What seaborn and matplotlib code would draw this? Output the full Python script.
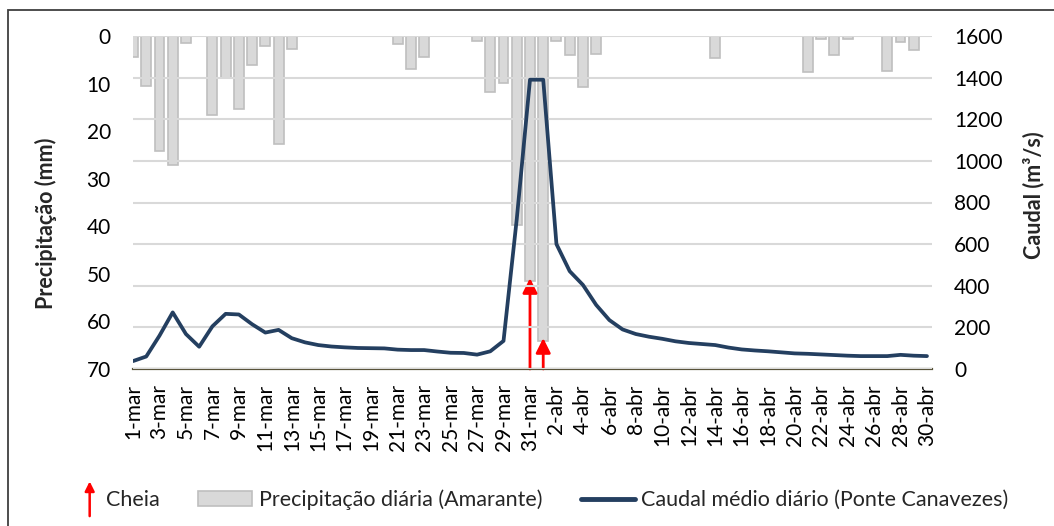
import numpy as np
import matplotlib
matplotlib.use("Agg")
import matplotlib.pyplot as plt
from matplotlib.patches import Rectangle, FancyArrowPatch, Patch
from matplotlib.lines import Line2D
from matplotlib.legend_handler import HandlerBase
import seaborn as sns

# dias: 1-mar .. 30-abr
days = [f"{d}-mar" for d in range(1, 32)] + [f"{d}-abr" for d in range(1, 31)]

# precipitação diária (Amarante), mm
precip = [4.5, 10.5, 24.2, 27.2, 1.4, 0, 16.6, 8.8, 15.3, 6.0,
          2.2, 22.8, 2.7, 0, 0, 0, 0, 0, 0, 0,
          1.6, 6.9, 4.5, 0, 0, 0, 1.0, 11.7, 9.9, 39.7,
          51.6, 64.2, 1.0, 3.9, 10.7, 3.8, 0, 0, 0, 0,
          0, 0, 0, 0, 4.6, 0, 0, 0, 0, 0,
          0, 7.6, 0.6, 3.9, 0.6, 0, 0, 7.4, 1.2, 2.9,
          0]

# caudal médio diário (Ponte Canavezes), m3/s
caudal = [38, 60, 160, 272, 168, 107, 205, 265, 262, 215,
          175, 188, 148, 128, 115, 108, 104, 101, 100, 99,
          93, 91, 91, 84, 78, 77, 69, 85, 135, 720,
          1390, 1390, 600, 470, 404, 308, 235, 190, 168, 155,
          145, 133, 125, 120, 115, 103, 94, 89, 85, 80,
          75, 73, 70, 67, 64, 62, 62, 62, 68, 64,
          62]

# cheias (setas)
cheia_days = [30, 31]
cheia_tip = [50.9, 63.5]

sns.set_theme(style="white")
plt.rcParams["font.family"] = ["Lato", "DejaVu Sans"]

bar_fill = "#d9d9d9"
bar_edge = "#bfbfbf"
line_col = "#243f60"

fig = plt.figure(figsize=(10.54, 5.26), dpi=100)
ax = fig.add_axes([133 / 1054, 1 - 369 / 526, 799 / 1054, 333 / 526])

sns.barplot(x=days, y=precip, ax=ax, color=bar_fill, edgecolor=bar_edge,
            linewidth=1.2, width=0.75, saturation=1, errorbar=None, zorder=2)
ax.set_ylim(70, 0)
ax.set_yticks(range(0, 71, 10))
ax.set_ylabel("")
ax.set_xlabel("")

for d, tip in zip(cheia_days, cheia_tip):
    ax.annotate("", xy=(d, tip), xytext=(d, 70),
                arrowprops=dict(arrowstyle="-|>", color="red", lw=2,
                                mutation_scale=22, shrinkA=0, shrinkB=0),
                zorder=5)

ax2 = ax.twinx()
sns.lineplot(x=np.arange(len(caudal)), y=caudal, ax=ax2, color=line_col,
             linewidth=2.7, zorder=4)
ax2.lines[0].set_solid_joinstyle("round")
ax2.lines[0].set_solid_capstyle("round")
ax2.set_ylim(0, 1600)
ax2.set_yticks(range(0, 1601, 200))
ax2.grid(axis="y", color="#d9d9d9", linewidth=1.5)
ax2.set_axisbelow(True)
ax2.set_ylabel("")
ax2.set_xlabel("")

fig.text(46 / 1054, 1 - 223 / 526, "Precipitação (mm)", rotation=90,
         ha="center", va="center", fontsize=15.5, fontweight="bold")
fig.text(1034 / 1054, 1 - 195 / 526, "Caudal (m³/s)", rotation=90,
         ha="center", va="center", fontsize=15.5, fontweight="bold")

ax.set_xlim(0, 60.38)
ax.set_xticks(range(0, 61, 2))
ax.set_xticklabels(days[::2])

ax.tick_params(axis="y", length=0, pad=16, labelsize=15, labelcolor="black")
ax2.tick_params(axis="y", length=0, pad=16, labelsize=15, labelcolor="black")
ax.tick_params(axis="x", length=0, pad=11, labelsize=15, labelrotation=90,
               labelcolor="black")

for s in ["top", "left", "right"]:
    ax.spines[s].set_visible(False)
for s in ax2.spines.values():
    s.set_visible(False)
ax.spines["bottom"].set_color("#595339")
ax.spines["bottom"].set_linewidth(1.6)
ax.spines["bottom"].set_zorder(6)


class ArrowHandler(HandlerBase):
    def create_artists(self, legend, orig_handle, xdescent, ydescent,
                       width, height, fontsize, trans):
        x = width - xdescent - 7
        yc = height / 2 - ydescent
        arr = FancyArrowPatch((x, yc - 12.5), (x, yc + 12.5),
                              arrowstyle="-|>", color="red", lw=1.8,
                              mutation_scale=14, shrinkA=0, shrinkB=0,
                              transform=trans)
        return [arr]


class CheiaHandle:
    pass


handles = [CheiaHandle(),
           Patch(facecolor=bar_fill, edgecolor=bar_edge, linewidth=1.2),
           Line2D([], [], color=line_col, linewidth=3.5)]
labels = ["Cheia", "Precipitação diária (Amarante)",
          "Caudal médio diário (Ponte Canavezes)"]
fig.legend(handles, labels, loc="center", bbox_to_anchor=(0.5, 1 - 500 / 526),
           ncol=3, frameon=False, fontsize=15.5, handlelength=2.5,
           handleheight=0.68, handletextpad=0.3, columnspacing=1.8,
           handler_map={CheiaHandle: ArrowHandler()})

fig.patches.append(Rectangle((8 / 1054, -0.1), 1.2, 1.1 - 10 / 526,
                             transform=fig.transFigure, fill=False,
                             edgecolor="#3f3f3f", linewidth=1.3))

fig.savefig("out.png", dpi=100)
